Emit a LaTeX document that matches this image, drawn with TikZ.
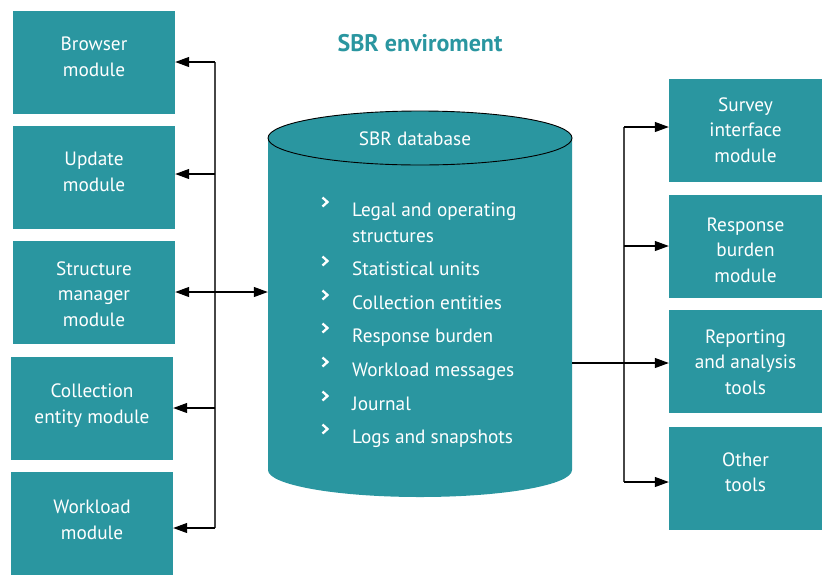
\documentclass[tikz,border=0pt]{standalone}
\usepackage{fontspec}
\setmainfont{PT Sans}
\usetikzlibrary{arrows.meta}
\definecolor{teal1}{RGB}{42,150,160}
\definecolor{busgray}{RGB}{70,70,70}
\tikzset{
  modbox/.style={rectangle, fill=teal1, inner sep=0pt, minimum width=162pt, minimum height=103pt},
  boxtxt/.style={text=white, align=center, inner sep=0pt, font=\fontsize{19.3}{25.5}\selectfont},
  conn/.style={line width=1.1pt, draw=black, -{Triangle[length=14pt,width=10pt]}},
  dconn/.style={line width=1.1pt, draw=black, {Triangle[length=14pt,width=10pt]}-{Triangle[length=14pt,width=10pt]}},
  bus/.style={line width=1.3pt, draw=busgray},
  item/.style={anchor=base west, text=white, font=\fontsize{19.3}{25}\selectfont, inner sep=0pt},
  chev/.style={draw=white, line width=2.3pt, line cap=butt, line join=miter},
}
\begin{document}
\begin{tikzpicture}[x=1pt,y=-1pt]
\useasboundingbox (0,0) rectangle (822,574);
% title
\node[text=teal1, font=\fontsize{24}{28}\selectfont\bfseries] (title) at (420,43) {SBR enviroment};
% left modules
\node[modbox] (b1) at (94,62) {};
\node[boxtxt] (b1t) at ([yshift=5pt]b1.center) {Browser\\module};
\node[modbox] (b2) at (94,177) {};
\node[boxtxt] (b2t) at ([yshift=5pt]b2.center) {Update\\module};
\node[modbox] (b3) at (94,292) {};
\node[boxtxt] (b3t) at ([yshift=-2pt]b3.center) {Structure\\manager\\module};
\node[modbox] (b4) at (92,408) {};
\node[boxtxt] (b4t) at ([yshift=2.5pt]b4.center) {Collection\\entity module};
\node[modbox] (b5) at (92,523) {};
\node[boxtxt] (b5t) at ([yshift=3pt]b5.center) {Workload\\module};
% right modules
\node[modbox, minimum width=153pt] (r1) at (745.5,130) {};
\node[boxtxt] (r1t) at (r1.center) {Survey\\interface\\module};
\node[modbox, minimum width=153pt] (r2) at (745.5,246) {};
\node[boxtxt] (r2t) at ([yshift=-4pt]r2.center) {Response\\burden\\module};
\node[modbox, minimum width=153pt] (r3) at (745.5,361) {};
\node[boxtxt] (r3t) at ([yshift=-1pt]r3.center) {Reporting\\and analysis\\tools};
\node[modbox, minimum width=153pt] (r4) at (745.5,478) {};
\node[boxtxt] (r4t) at ([yshift=6pt]r4.center) {Other\\tools};
% database cylinder
\fill[teal1] (268,138) -- (268,470) arc[start angle=180,end angle=0,x radius=152,y radius=27] -- (572,138) -- cycle;
\draw[fill=teal1, line width=0.9pt] (420,138) ellipse[x radius=152, y radius=27];
\node[inner sep=0pt, minimum width=304pt, minimum height=332pt] (db) at (420,304) {};
\node[text=white, font=\fontsize{19.3}{25}\selectfont] (dbtitle) at (415,139) {SBR database};
\foreach \y/\t [count=\i] in {216/Legal and operating, 275/Statistical units, 309/Collection entities, 342/Response burden, 376/Workload messages, 410/Journal, 443/Logs and snapshots}{
  \node[item] (it\i) at (352,\y) {\t};
  \draw[chev] (322.5,\y-18.5) -- (327.5,\y-14) -- (322.5,\y-9.5);
}
\node[item] (it1b) at (352,242) {structures};
% left bus
\coordinate (lt) at (215,62);
\coordinate (l2) at (215,174);
\coordinate (l3) at (215,292);
\coordinate (l4) at (215,408);
\coordinate (lb) at (215,528);
\draw[bus] (lt) -- (lb);
\draw[conn] (lt) -- (b1.east |- lt);
\draw[conn] (l2) -- (b2.east |- l2);
\draw[conn] (l4) -- (b4.east |- l4);
\draw[conn] (lb) -- (b5.east |- lb);
\draw[dconn] (b3.east |- l3) -- (db.west |- l3);
% right bus
\coordinate (rt) at (624,127);
\coordinate (r2c) at (624,246);
\coordinate (rb) at (624,482);
\draw[bus] (rt) -- (rb);
\draw[conn] (rt) -- (r1.west |- rt);
\draw[conn] (r2c) -- (r2.west |- r2c);
\draw[conn] (db.east |- 0,363) -- (r3.west |- 0,363);
\draw[conn] (rb) -- (r4.west |- rb);
\end{tikzpicture}
\end{document}
